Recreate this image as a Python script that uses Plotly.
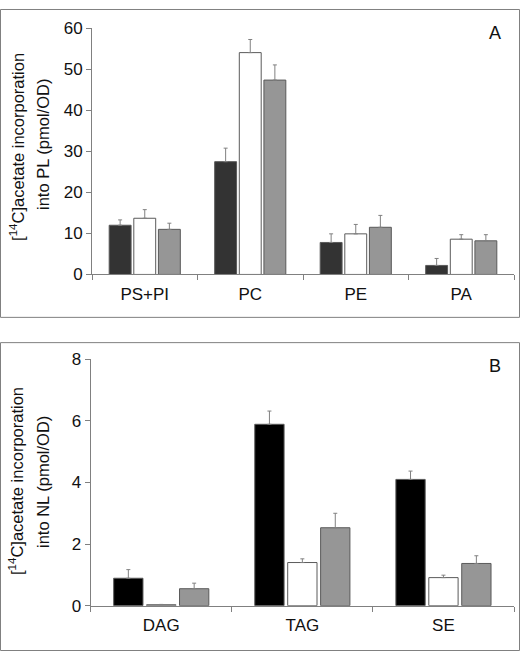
import plotly.graph_objects as go

W, H = 520, 661

# Panel A data (phospholipids)
cats_a = ["PS+PI", "PC", "PE", "PA"]
a_black = [12.0, 27.5, 7.8, 2.2]
a_black_err = [1.3, 3.3, 2.1, 1.7]
a_white = [13.7, 54.1, 9.9, 8.6]
a_white_err = [2.1, 3.2, 2.3, 1.1]
a_gray = [11.0, 47.4, 11.5, 8.2]
a_gray_err = [1.5, 3.7, 2.9, 1.5]
a_yticks = [0, 10, 20, 30, 40, 50, 60]

# Panel B data (neutral lipids)
cats_b = ["DAG", "TAG", "SE"]
b_black = [0.89, 5.89, 4.10]
b_black_err = [0.28, 0.43, 0.27]
b_white = [0.03, 1.40, 0.91]
b_white_err = [0.01, 0.12, 0.08]
b_gray = [0.55, 2.53, 1.37]
b_gray_err = [0.18, 0.47, 0.25]
b_yticks = [0, 2, 4, 6, 8]

FONT = "Liberation Sans, Arial, sans-serif"
EDGE = "#5a5a5a"
ERRC = "#808080"


def px_x(x):
    return x / W


def px_y(y):
    return 1 - y / H


def bar(cats, vals, errs, color, xa, ya):
    return go.Bar(
        x=cats, y=vals, xaxis=xa, yaxis=ya,
        marker=dict(color=color, line=dict(color=EDGE, width=1)),
        error_y=dict(type="data", array=errs, arrayminus=[0] * len(errs),
                     symmetric=False, color=ERRC, thickness=1, width=2),
        showlegend=False, hoverinfo="skip",
    )


fig = go.Figure()
fig.add_trace(bar(cats_a, a_black, a_black_err, "#333333", "x", "y"))
fig.add_trace(bar(cats_a, a_white, a_white_err, "#ffffff", "x", "y"))
fig.add_trace(bar(cats_a, a_gray, a_gray_err, "#969696", "x", "y"))
fig.add_trace(bar(cats_b, b_black, b_black_err, "#000000", "x2", "y2"))
fig.add_trace(bar(cats_b, b_white, b_white_err, "#ffffff", "x2", "y2"))
fig.add_trace(bar(cats_b, b_gray, b_gray_err, "#969696", "x2", "y2"))

xcommon = dict(showline=True, linecolor=ERRC, linewidth=1, ticks="outside",
               tickson="boundaries", ticklen=5, tickcolor=ERRC,
               tickfont=dict(family=FONT, size=17, color="#111"),
               ticklabelstandoff=4, showgrid=False, zeroline=False, fixedrange=True)
ycommon = dict(showline=True, linecolor=ERRC, linewidth=1, ticks="outside",
               ticklen=5, tickcolor=ERRC,
               tickfont=dict(family=FONT, size=17, color="#111"),
               showgrid=False, zeroline=False, fixedrange=True)

fig.update_layout(
    width=W, height=H,
    margin=dict(l=0, r=0, t=0, b=0),
    paper_bgcolor="white", plot_bgcolor="white",
    barmode="group", bargap=0.30, bargroupgap=0.11,
    xaxis=dict(domain=[px_x(92), px_x(514)], anchor="y",
               range=[-0.5, 3.5], **xcommon),
    yaxis=dict(domain=[px_y(273.3), px_y(20)], anchor="x",
               range=[0, 60], tickvals=a_yticks, **ycommon),
    xaxis2=dict(domain=[px_x(90.7), px_x(514)], anchor="y2",
                range=[-0.5, 2.5], **xcommon),
    yaxis2=dict(domain=[px_y(614.3), px_y(360.7)], anchor="x2",
                range=[0, 8], tickvals=b_yticks, **ycommon),
    shapes=[
        dict(type="rect", xref="paper", yref="paper",
             x0=px_x(0.5), x1=px_x(519.5), y0=px_y(317.5), y1=px_y(0.5),
             line=dict(color=ERRC, width=1)),
        dict(type="rect", xref="paper", yref="paper",
             x0=px_x(0.5), x1=px_x(519.5), y0=px_y(660.5), y1=px_y(343.5),
             line=dict(color=ERRC, width=1)),
    ],
)

ann = []
def txt(x, y, s, size=16, angle=0):
    ann.append(dict(xref="paper", yref="paper", x=px_x(x), y=px_y(y), text=s,
                    showarrow=False, textangle=angle, xanchor="center", yanchor="middle",
                    font=dict(family=FONT, size=size, color="#111")))

txt(17, 142, "[<sup>14</sup>C]acetate incorporation", size=16.5, angle=-90)
txt(43, 140, "into PL (pmol/OD)", size=16.5, angle=-90)
txt(16, 486, "[<sup>14</sup>C]acetate incorporation", size=16.5, angle=-90)
txt(43, 487, "into NL (pmol/OD)", size=16.5, angle=-90)
txt(495, 25, "A", size=18)
txt(495, 368, "B", size=18)
fig.update_layout(annotations=ann)

fig.write_html("out.html", config={"displayModeBar": False},
               post_script="document.body.style.margin='0';document.body.style.overflow='hidden';")
